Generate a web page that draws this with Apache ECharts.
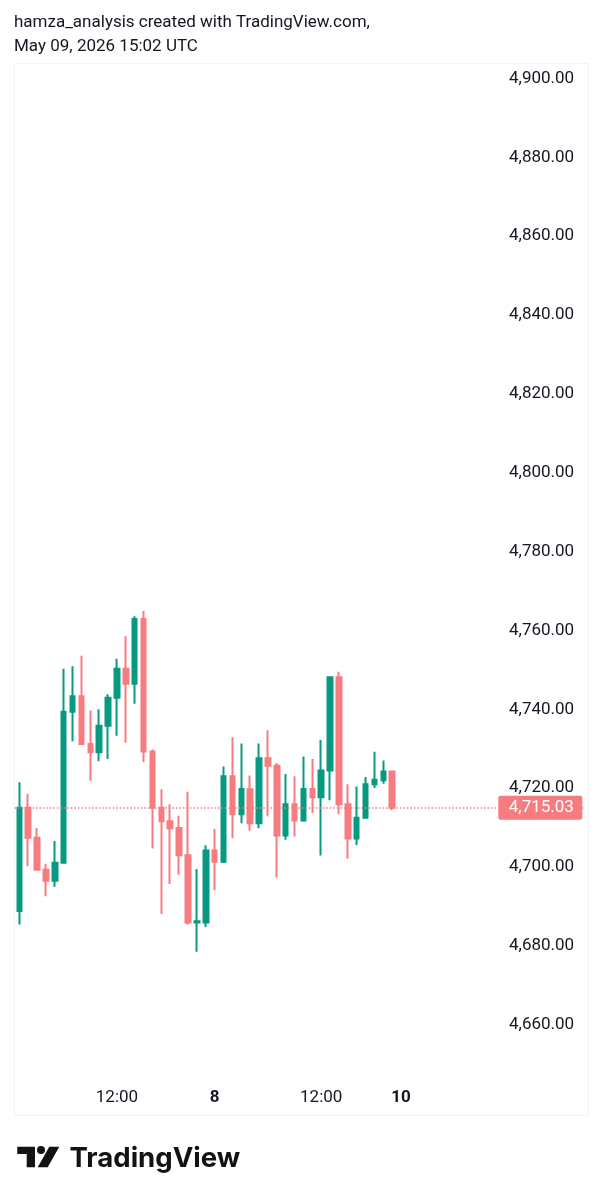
<!DOCTYPE html>
<html>
<head>
<meta charset="utf-8">
<title>TradingView chart</title>
<script src="https://cdn.jsdelivr.net/npm/echarts@6/dist/echarts.min.js"></script>
<style>
    html, body { margin: 0; padding: 0; background: #fff; }
    #main { width: 602px; height: 1200px; }
</style>
</head>
<body>
<div id="main"></div>
<script>
    var opens = [4688.8, 4715.0, 4707.4, 4699.3, 4696.5, 4701.1, 4739.4, 4743.3, 4731.2, 4729.1, 4735.8,
        4742.9, 4750.3, 4746.5, 4762.9, 4729.3, 4715.0, 4711.6, 4709.9, 4703.0, 4685.9, 4685.9,
        4704.2, 4701.3, 4723.0, 4713.4, 4719.7, 4711.1, 4727.6, 4725.7, 4708.0, 4715.9, 4711.8,
        4719.8, 4717.7, 4724.5, 4748.1, 4715.9, 4707.2, 4712.5, 4721.0, 4722.0, 4724.2];
    var closes = [4715.0, 4707.4, 4699.3, 4696.5, 4701.1, 4739.4, 4743.3, 4731.2, 4729.1, 4735.8, 4742.9,
        4750.3, 4746.5, 4762.9, 4729.3, 4715.0, 4711.6, 4709.8, 4703.0, 4685.9, 4686.2, 4704.2,
        4701.3, 4723.0, 4713.4, 4719.8, 4711.1, 4727.6, 4725.7, 4708.0, 4715.9, 4711.8, 4719.8,
        4717.7, 4724.5, 4748.1, 4715.9, 4707.2, 4712.5, 4721.0, 4722.1, 4724.2, 4715.0];
    var lows = [4685.4, 4700.2, 4699.3, 4692.6, 4695.0, 4701.1, 4731.9, 4731.2, 4721.9, 4726.8, 4727.4,
        4733.3, 4731.5, 4741.4, 4726.6, 4704.7, 4688.1, 4695.7, 4698.0, 4685.4, 4678.5, 4684.8,
        4694.1, 4701.0, 4707.3, 4711.1, 4709.2, 4709.8, 4712.8, 4697.3, 4706.9, 4707.7, 4711.5,
        4713.7, 4702.9, 4716.9, 4713.4, 4702.1, 4705.6, 4712.4, 4720.0, 4721.1, 4714.4];
    var highs = [4721.5, 4718.6, 4709.9, 4700.8, 4706.6, 4750.3, 4750.9, 4753.6, 4739.7, 4740.0, 4743.8,
        4752.8, 4758.5, 4763.6, 4764.9, 4729.8, 4719.7, 4715.9, 4713.0, 4719.1, 4699.5, 4705.5,
        4709.6, 4725.5, 4732.9, 4731.3, 4723.2, 4731.3, 4734.7, 4726.4, 4723.6, 4723.0, 4728.0,
        4727.4, 4732.2, 4748.1, 4749.5, 4721.0, 4720.4, 4722.8, 4729.2, 4727.0, 4724.4];

    var tickIndexes = [11, 22, 34, 43];
    var tickLabels = ['12:00', '8', '12:00', '10'];
    var boldLabels = ['8', '10'];
    var slotCount = 64;
    var lastPrice = 4715.03;
    var lastPriceSlot = 58;

    var upColor = '#089981';
    var downColor = '#f77c80';
    var textColor = '#131722';
    var logoColor = '#131313';

    var categories = [];
    for (var i = 0; i < slotCount; i++) {
        var pos = tickIndexes.indexOf(i);
        categories.push(pos == -1 ? '' : tickLabels[pos]);
    }

    var candles = [];
    for (var j = 0; j < opens.length; j++) {
        candles.push([opens[j], closes[j], lows[j], highs[j]]);
    }

    var chart = echarts.init(document.getElementById('main'), null, {renderer: 'canvas'});
    chart.setOption({
        animation: false,
        backgroundColor: '#ffffff',
        textStyle: {fontFamily: 'Roboto'},
        title: {
            left: 14,
            top: 11,
            padding: 0,
            text: 'hamza_analysis created with TradingView.com,\nMay 09, 2026 15:02 UTC',
            textStyle: {fontFamily: 'Roboto', fontSize: 17, fontWeight: 400, lineHeight: 24, color: textColor}
        },
        grid: {left: 14.85, top: 78.5, width: 568.3, height: 1025},
        xAxis: {
            type: 'category',
            data: categories,
            boundaryGap: true,
            axisLine: {show: false},
            axisTick: {show: false},
            splitLine: {show: false},
            axisLabel: {
                show: true,
                interval: 0,
                inside: true,
                margin: -3,
                hideOverlap: false,
                fontFamily: 'Roboto',
                fontSize: 17,
                color: textColor,
                formatter: function (value) {
                    if (boldLabels.indexOf(value) != -1) {
                        return '{b|' + value + '}';
                    }
                    return value;
                },
                rich: {b: {fontFamily: 'Roboto', fontSize: 17, fontWeight: 700, color: textColor}}
            }
        },
        yAxis: {
            type: 'value',
            position: 'right',
            min: 4640,
            max: 4900,
            interval: 20,
            axisLine: {show: false},
            axisTick: {show: false},
            splitLine: {show: false},
            axisLabel: {
                inside: true,
                margin: 9,
                fontFamily: 'Roboto',
                fontSize: 17,
                color: textColor,
                formatter: function (value) {
                    if (value == 4640) {
                        return '';
                    }
                    return value.toLocaleString('en-US', {minimumFractionDigits: 2, maximumFractionDigits: 2});
                }
            }
        },
        series: [{
            type: 'candlestick',
            data: candles,
            barWidth: 5,
            clip: false,
            itemStyle: {
                color: upColor,
                color0: downColor,
                borderColor: upColor,
                borderColor0: downColor,
                borderWidth: 2
            },
            markLine: {
                silent: true,
                symbol: 'none',
                label: {show: false},
                lineStyle: {color: downColor, type: [1.5, 2], width: 1.5, opacity: 1},
                data: [{yAxis: lastPrice}]
            },
            markPoint: {
                silent: true,
                symbol: 'path://M2 0H82A2 2 0 0 1 84 2V22A2 2 0 0 1 82 24H2A2 2 0 0 1 0 22V2A2 2 0 0 1 2 0Z',
                symbolSize: [84, 24],
                symbolOffset: [6, 0],
                itemStyle: {color: downColor},
                label: {
                    show: true,
                    position: 'inside',
                    offset: [1, 0],
                    fontFamily: 'Roboto',
                    fontSize: 17,
                    color: '#ffffff',
                    formatter: function (p) {
                        return p.value.toLocaleString('en-US', {minimumFractionDigits: 2});
                    }
                },
                data: [{coord: [lastPriceSlot, lastPrice], value: lastPrice}]
            }
        }],
        graphic: [
            {
                type: 'rect',
                silent: true,
                z: -1,
                shape: {x: 14.5, y: 63.5, width: 574, height: 1052},
                style: {fill: 'none', stroke: '#f0f3fa', lineWidth: 1}
            },
            {
                type: 'polygon',
                silent: true,
                shape: {points: [[17.3, 1146.7], [35, 1146.7], [35, 1167.3], [26.7, 1167.3], [26.7, 1154], [17.3, 1154]]},
                style: {fill: logoColor}
            },
            {
                type: 'circle',
                silent: true,
                shape: {cx: 41, cy: 1150, r: 4},
                style: {fill: logoColor}
            },
            {
                type: 'polygon',
                silent: true,
                shape: {points: [[49.3, 1146.7], [59.3, 1146.7], [47.7, 1167.3], [37.7, 1167.3]]},
                style: {fill: logoColor}
            },
            {
                type: 'text',
                silent: true,
                left: 69.5,
                top: 1145,
                style: {text: 'TradingView', fontFamily: 'Inter', fontSize: 27.6, fontWeight: 700, fill: logoColor}
            }
        ]
    });
</script>
</body>
</html>
